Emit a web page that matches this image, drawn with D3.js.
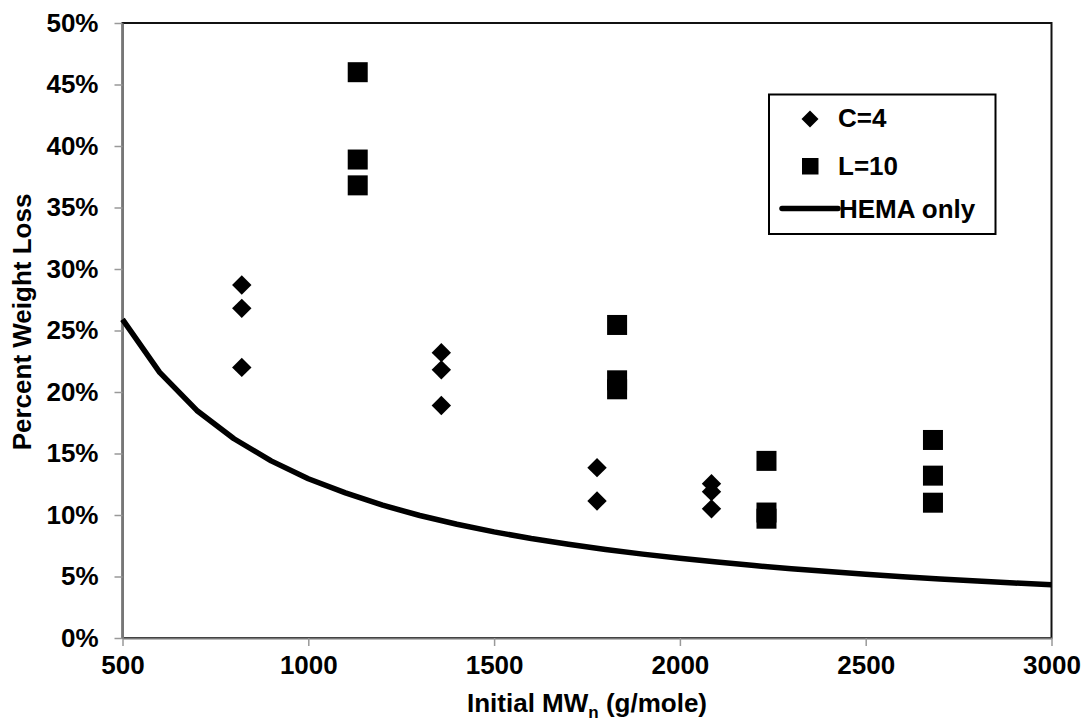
<!DOCTYPE html>
<html>
<head>
<meta charset="utf-8">
<script src="https://cdn.jsdelivr.net/npm/d3@7"></script>
<style>
  body { margin: 0; background: #fff; }
  text { font-family: "Liberation Sans", Arial, sans-serif; font-weight: bold; fill: #000; }
</style>
</head>
<body>
<div id="container"></div>
<script>
const width = 1083
const height = 721

// C=4 series
const c4MW = [821, 821, 821, 1358, 1358, 1358, 1777, 1777, 2085, 2085, 2085]
const c4Loss = [0.287, 0.268, 0.220, 0.232, 0.218, 0.189, 0.1385, 0.1114, 0.1255, 0.119, 0.105]

// L=10 series
const l10MW = [1133, 1133, 1133, 1831, 1831, 1831, 2233, 2233, 2233, 2681, 2681, 2681]
const l10Loss = [0.460, 0.389, 0.368, 0.2545, 0.2095, 0.2022, 0.144, 0.102, 0.097, 0.161, 0.132, 0.110]

// HEMA only curve
const hemaMW = [500, 600, 700, 800, 900, 1000, 1100, 1200, 1300, 1400, 1500, 1600, 1700,
  1800, 1900, 2000, 2100, 2200, 2300, 2400, 2500, 2600, 2700, 2800, 2900, 3000]
const hemaLoss = [0.259, 0.216, 0.185, 0.162, 0.144, 0.1295, 0.118, 0.108, 0.0996, 0.0925,
  0.0863, 0.0809, 0.0762, 0.0719, 0.0682, 0.0648, 0.0617, 0.0589, 0.0563, 0.054,
  0.0518, 0.0498, 0.048, 0.0463, 0.0447, 0.0432]

const xTicks = [500, 1000, 1500, 2000, 2500, 3000]
const yTicks = [0, 0.05, 0.1, 0.15, 0.2, 0.25, 0.3, 0.35, 0.4, 0.45, 0.5]

const margin = { left: 122.5, right: 1051.5, top: 23, bottom: 638 }

const x = d3.scaleLinear().domain([500, 3000]).range([margin.left, margin.right])
const y = d3.scaleLinear().domain([0, 0.5]).range([margin.bottom, margin.top])

const svg = d3.select('#container')
  .append('svg')
  .attr('width', width)
  .attr('height', height)

// plot frame (top/right)
svg.append('rect')
  .attr('x', margin.left)
  .attr('y', margin.top)
  .attr('width', margin.right - margin.left)
  .attr('height', margin.bottom - margin.top)
  .attr('fill', 'none')
  .attr('stroke', '#111')
  .attr('stroke-width', 2)

const fontSize = 26

// axes
const xAxis = svg.append('g')
  .attr('transform', `translate(0,${margin.bottom})`)
  .call(d3.axisBottom(x).tickValues(xTicks).tickFormat(d3.format('d')).tickSizeInner(8).tickSizeOuter(0).tickPadding(10))
xAxis.select('.domain').attr('stroke', '#777').attr('stroke-width', 2)
xAxis.selectAll('.tick line').attr('stroke', '#999').attr('stroke-width', 1.5)
xAxis.selectAll('.tick text').attr('font-size', fontSize).attr('fill', '#000')
  .attr('font-family', '"Liberation Sans", Arial, sans-serif').attr('font-weight', 'bold')

const yAxis = svg.append('g')
  .attr('transform', `translate(${margin.left},0)`)
  .call(d3.axisLeft(y).tickValues(yTicks).tickFormat(d3.format('.0%')).tickSizeInner(8).tickSizeOuter(0).tickPadding(16))
yAxis.select('.domain').attr('stroke', '#777').attr('stroke-width', 2)
yAxis.selectAll('.tick line').attr('stroke', '#999').attr('stroke-width', 1.5)
yAxis.selectAll('.tick text').attr('font-size', fontSize).attr('fill', '#000')
  .attr('font-family', '"Liberation Sans", Arial, sans-serif').attr('font-weight', 'bold')

// HEMA line
const hema = hemaMW.map((d, i) => [d, hemaLoss[i]])
svg.append('path')
  .datum(hema)
  .attr('fill', 'none')
  .attr('stroke', '#000')
  .attr('stroke-width', 5.5)
  .attr('stroke-linejoin', 'round')
  .attr('d', d3.line().x(d => x(d[0])).y(d => y(d[1])))

// markers
const c4 = c4MW.map((d, i) => [d, c4Loss[i]])
svg.append('g').selectAll('path')
  .data(c4)
  .enter()
  .append('path')
  .attr('transform', d => `translate(${x(d[0])},${y(d[1])})`)
  .attr('d', 'M0,-9.7L9.7,0L0,9.7L-9.7,0Z')
  .attr('fill', '#000')

const l10 = l10MW.map((d, i) => [d, l10Loss[i]])
svg.append('g').selectAll('rect')
  .data(l10)
  .enter()
  .append('rect')
  .attr('x', d => x(d[0]) - 10)
  .attr('y', d => y(d[1]) - 10)
  .attr('width', 20)
  .attr('height', 20)
  .attr('fill', '#000')

// legend
const legend = svg.append('g')
legend.append('rect')
  .attr('x', 769).attr('y', 94.5).attr('width', 226.5).attr('height', 139.5)
  .attr('fill', '#fff').attr('stroke', '#000').attr('stroke-width', 2)
legend.append('path')
  .attr('d', 'M810,110.5L818.5,119L810,127.5L801.5,119Z')
  .attr('fill', '#000')
legend.append('rect')
  .attr('x', 802).attr('y', 158).attr('width', 16.5).attr('height', 16.5)
  .attr('fill', '#000')
legend.append('line')
  .attr('x1', 782).attr('x2', 838).attr('y1', 208.5).attr('y2', 208.5)
  .attr('stroke', '#000').attr('stroke-width', 5.5).attr('stroke-linecap', 'round')
const legendLabels = ['C=4', 'L=10', 'HEMA only']
legend.selectAll('text.lab')
  .data(legendLabels)
  .enter()
  .append('text')
  .attr('class', 'lab')
  .attr('x', (d, i) => i === 2 ? 839 : 838)
  .attr('y', (d, i) => [127, 175, 218][i])
  .attr('font-size', fontSize)
  .text(d => d)

// axis titles
const xTitle = svg.append('text')
  .attr('x', (margin.left + margin.right) / 2)
  .attr('y', 712)
  .attr('text-anchor', 'middle')
  .attr('font-size', fontSize)
xTitle.append('tspan').text('Initial MW')
xTitle.append('tspan').attr('font-size', 17).attr('dy', 6).text('n')
xTitle.append('tspan').attr('dy', -6).text(' (g/mole)')

svg.append('text')
  .attr('transform', `translate(31,322) rotate(-90)`)
  .attr('text-anchor', 'middle')
  .attr('font-size', fontSize)
  .text('Percent Weight Loss')
</script>
</body>
</html>
